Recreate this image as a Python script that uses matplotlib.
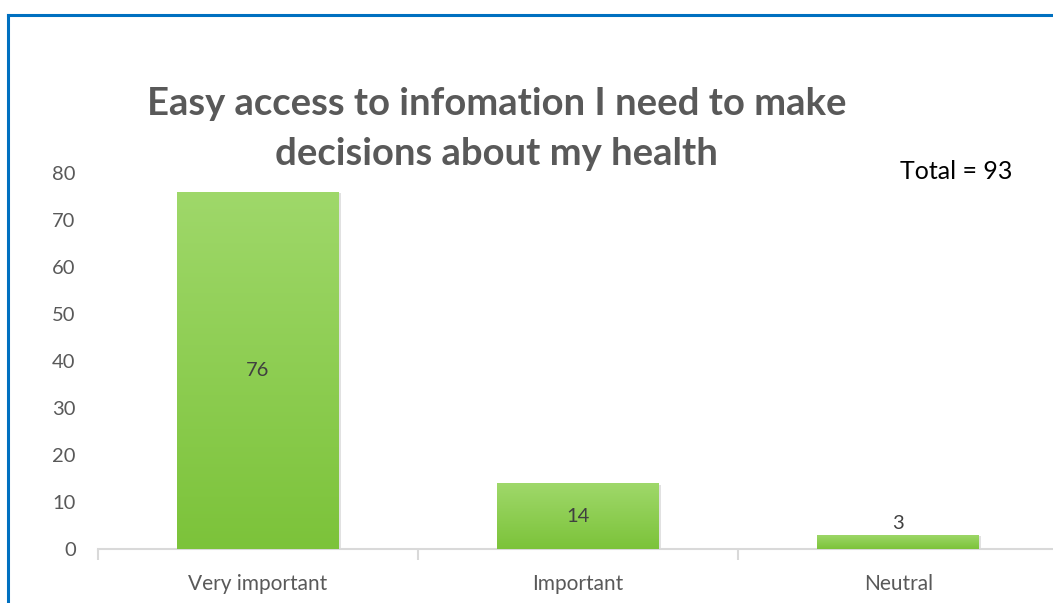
import numpy as np
import matplotlib.pyplot as plt
from matplotlib.colors import LinearSegmentedColormap
import matplotlib.patheffects as pe

# survey responses
categories = ['Very important', 'Important', 'Neutral']
counts = [76, 14, 3]
total = 93
title = 'Easy access to infomation I need to make\ndecisions about my health'

plt.rcParams['font.family'] = ['Lato', 'DejaVu Sans']

fig = plt.figure(figsize=(10.53, 6.03), dpi=100)
ax = fig.add_axes([0.093, 0.0896, 0.912, 0.6236])

x = np.arange(len(categories))
bars = ax.bar(x, counts, width=0.505, color='#8fd14f', zorder=2,
              path_effects=[pe.SimplePatchShadow(offset=(1.5, -1), shadow_rgbFace='#aaaaaa', alpha=0.35),
                            pe.Normal()])

# vertical light-to-dark green fill inside each bar
cmap = LinearSegmentedColormap.from_list('grn', ['#7cc33a', '#9fd86a'])
grad = np.linspace(0, 1, 256).reshape(-1, 1)
for b in bars:
    x0, y0 = b.get_x(), b.get_y()
    w, h = b.get_width(), b.get_height()
    im = ax.imshow(grad, cmap=cmap, origin='lower', aspect='auto',
                   extent=(x0, x0 + w, y0, y0 + h), zorder=3)
    im.set_clip_path(b)

for i, v in enumerate(counts):
    if v > 8:
        ax.text(i, v / 2, str(v), ha='center', va='center', fontsize=14.5, color='#404040', zorder=4)
    else:
        ax.text(i, v + 0.6, str(v), ha='center', va='bottom', fontsize=14.5, color='#404040', zorder=4)

ax.set_xlim(-0.5, len(categories) - 0.5)
ax.set_ylim(0, 80)
ax.set_yticks(range(0, 81, 10))
ax.set_xticks(x)
ax.set_xticklabels(categories)
ax.tick_params(axis='y', length=0, labelsize=14.5, labelcolor='#595959', pad=16)
ax.tick_params(axis='x', length=0, labelsize=15, labelcolor='#595959', pad=18)

# category separator ticks below the baseline
ax.set_xticks(np.arange(len(categories) + 1) - 0.5, minor=True)
ax.tick_params(axis='x', which='minor', length=8, color='#d9d9d9', width=1.5)

for s in ['top', 'right', 'left']:
    ax.spines[s].set_visible(False)
ax.spines['bottom'].set_color('#d9d9d9')
ax.spines['bottom'].set_linewidth(1.5)

fig.text(0.4715, 0.786, title, ha='center', va='center', fontsize=27.5, fontweight='bold',
         color='#595959', linespacing=1.55)
fig.text(0.908, 0.716, f'Total = {total}', ha='center', va='center', fontsize=18, color='#000000')

# chart frame
fig.add_artist(plt.Line2D([0.0076, 0.0076], [0.0, 0.975], color='#0070c0', lw=2.2))
fig.add_artist(plt.Line2D([0.0076, 1.0], [0.975, 0.975], color='#0070c0', lw=2.2))

fig.savefig('out.png', dpi=100)
